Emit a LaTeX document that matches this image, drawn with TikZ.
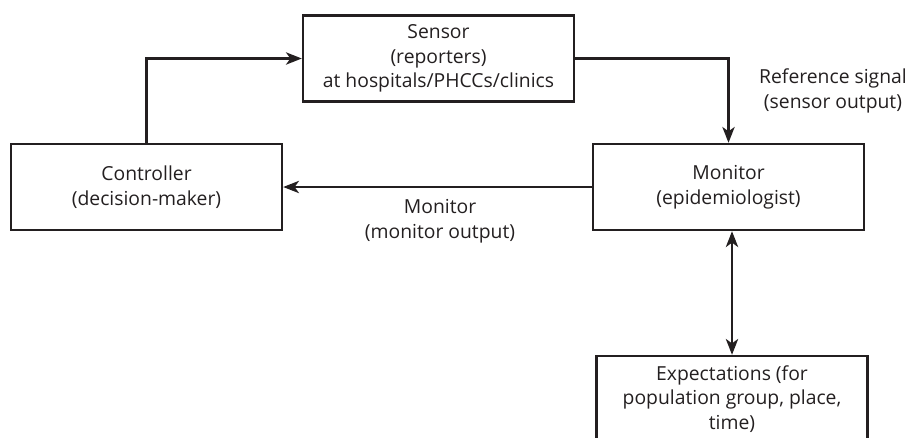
\documentclass[tikz,border=0pt]{standalone}
\usepackage{fontspec}
\setmainfont{Open Sans}
\definecolor{lineBlack}{RGB}{35, 31, 32}
\usepackage{tikz}
\usetikzlibrary{shapes,arrows,positioning,calc,arrows.meta}
\begin{document}
\begin{tikzpicture}[x=0.02cm,y=-0.02cm,
    font=\fontsize{11}{14}\selectfont,
    block/.style={draw=lineBlack,line width=1.4pt,minimum width=5.42cm,minimum height=1.72cm,align=center,text=lineBlack},
    link/.style={line width=1.3pt,draw=lineBlack,-{Stealth[length=9pt,width=7pt,inset=2.5pt]}},
    note/.style={align=center,text=lineBlack}]
    \useasboundingbox (0,0) rectangle (912,437);
    % boxes of the loop
    \node[block] (sensor) at (438.5,58.5) {Sensor\\(reporters)\\at hospitals/PHCCs/clinics};
    \node[block] (controller) at (146.5,187) {Controller\\(decision-maker)};
    \node[block] (monitor) at (728.5,187) {Monitor\\(epidemiologist)};
    \node[block] (expect) at (732,399) {Expectations (for\\population group, place,\\time)};
    % signals
    \draw[link] (controller.north) |- (sensor.west);
    \draw[link] (sensor.east) -| (monitor.north);
    \draw[link] (monitor.west) -- (controller.east);
    \draw[link,{Stealth[length=9pt,width=7pt,inset=2.5pt]}-{Stealth[length=9pt,width=7pt,inset=2.5pt]}] (monitor.south -| expect.north) -- (expect.north);
    \node[note] (refsig) at (833,91) {Reference signal\\(sensor output)};
    \node[note] (monout) at (440,221) {Monitor\\(monitor output)};
\end{tikzpicture}
\end{document}
